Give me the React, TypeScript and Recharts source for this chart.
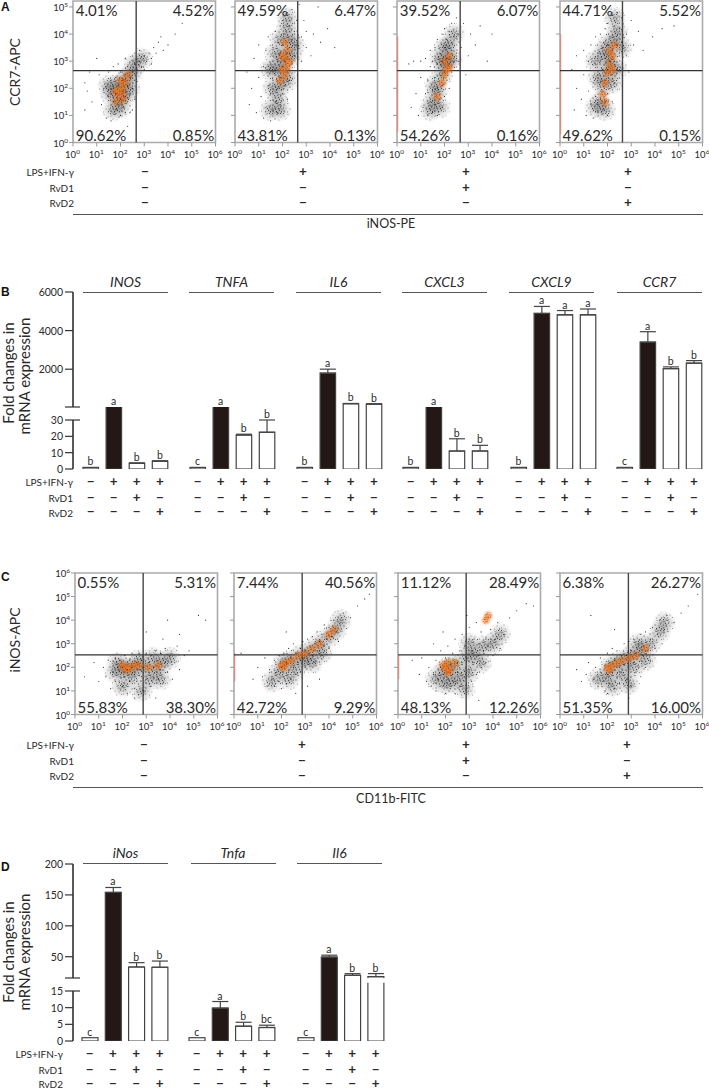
import React from 'react';
import {
    ComposedChart, ScatterChart, Scatter, Bar, Line, XAxis, YAxis, ErrorBar, LabelList,
    ReferenceLine, ReferenceArea,
} from 'recharts';

const FONT = 'Lato, sans-serif';
const INK = '#2a2a2a';

// Flow cytometry: the originals hold thousands of events. These are a hand-read sample of
// each cloud in log10 units [x, y]: haze = dense regions, hot = orange core, dots = single events.
// The dense regions are drawn as soft speckled blobs, the speckle is only a fill texture.
type Pt = [number, number];

const a1Haze: Pt[] = [[2.0,1.9],[2.1,2.2],[1.9,1.6],[1.8,2.1],[2.3,2.4],[2.2,1.7],[2.5,2.6],[1.6,1.8],[2.0,1.3],[1.5,2.1],[1.7,1.2],[2.4,2.0],[2.6,2.9],[2.9,3.1]];
const a1Hot: Pt[] = [[2.0,2.0],[2.1,1.9],[1.9,1.8],[2.2,2.2],[2.0,2.3],[1.8,1.9],[2.3,2.5],[2.1,1.6],[1.8,1.5]];
const a1Dots: Pt[] = [[1.3,2.0],[1.5,1.7],[1.6,2.3],[1.7,1.5],[1.7,2.0],[1.8,1.2],[1.8,1.8],[1.8,2.4],[1.9,1.4],[1.9,2.1],[2.0,1.0],[2.0,1.6],[2.0,2.6],[2.1,1.3],[2.1,1.9],[2.1,2.3],[2.2,1.1],[2.2,1.7],[2.2,2.5],[2.3,1.5],[2.3,2.1],[2.3,2.8],[2.4,1.8],[2.4,2.4],[2.5,2.0],[2.5,2.6],[2.6,2.3],[2.6,2.9],[2.7,2.7],[2.8,3.0],[2.9,2.8],[3.0,3.2],[3.1,3.0],[3.2,3.3],[3.3,3.1],[3.4,3.5],[3.5,3.3],[3.6,3.7],[3.7,3.9],[4.0,3.6],[0.6,1.9],[0.8,1.5],[0.5,2.2],[1.1,2.5],[1.2,1.4],[1.4,0.9],[1.5,2.6],[1.7,2.8],[2.5,1.2],[2.6,1.6],[4.6,4.4],[1.0,3.1],[1.6,0.8],[2.3,0.6],[1.9,2.9],[2.2,3.1],[3.3,2.9],[3.8,3.4],[0.5,1.2],[0.7,2.6],[2.8,3.4],[3.0,2.7],[4.3,4.0],[2.4,1.1]];

const a2Haze: Pt[] = [[2.1,3.2],[2.1,2.6],[1.9,2.1],[1.8,1.6],[2.3,3.8],[2.0,3.0],[2.2,4.2],[1.7,3.3],[2.4,3.2],[1.5,1.2],[1.6,2.0],[1.9,1.2],[2.5,3.6],[1.7,2.7],[2.2,4.6],[1.5,2.7],[1.9,3.8],[2.2,2.3]];
const a2Hot: Pt[] = [[2.1,3.1],[2.2,2.8],[2.0,2.7],[2.2,3.4],[2.1,3.7],[1.9,2.3],[2.0,3.2],[2.3,3.0],[2.1,2.5]];
const a2Dots: Pt[] = [[0.5,2.6],[0.6,1.4],[0.7,2.0],[0.8,3.1],[0.9,1.1],[1.0,2.4],[1.0,3.6],[1.1,1.7],[1.2,0.9],[1.2,2.8],[1.3,3.4],[1.3,1.3],[1.4,2.1],[1.4,3.9],[1.5,0.8],[1.5,1.8],[1.5,2.9],[1.6,1.2],[1.6,2.3],[1.6,3.5],[1.7,1.5],[1.7,2.6],[1.7,4.1],[1.8,1.1],[1.8,2.0],[1.8,3.0],[1.8,3.7],[1.9,1.4],[1.9,2.4],[1.9,3.3],[1.9,4.3],[2.0,1.8],[2.0,2.8],[2.0,3.6],[2.0,4.5],[2.1,2.1],[2.1,3.0],[2.1,4.0],[2.2,1.6],[2.2,2.6],[2.2,3.3],[2.2,4.7],[2.3,2.3],[2.3,3.5],[2.3,4.3],[2.4,2.9],[2.4,3.8],[2.4,4.9],[2.5,3.2],[2.5,4.1],[2.6,3.6],[2.6,4.5],[2.8,3.0],[2.8,3.9],[2.9,4.5],[3.0,3.5],[3.0,4.1],[3.2,3.2],[3.3,4.0],[3.6,3.7],[3.9,4.2],[4.2,3.5],[3.5,5.0],[2.7,5.1]];

const a3Haze: Pt[] = [[2.1,3.0],[1.9,2.5],[1.7,1.9],[2.2,3.6],[1.5,1.5],[2.0,2.9],[2.3,3.1],[1.6,2.1],[1.4,1.2],[1.8,1.3],[2.0,3.5],[1.8,3.1],[2.4,4.0]];
const a3Hot: Pt[] = [[2.2,2.8],[2.1,2.7],[2.0,2.5],[2.2,3.2],[1.9,2.2],[1.7,1.7],[2.0,3.0]];
const a3Dots: Pt[] = [[0.5,2.9],[0.6,1.3],[0.7,3.0],[0.8,1.8],[0.9,1.0],[1.0,3.0],[1.0,2.4],[1.1,1.3],[1.2,1.8],[1.2,3.1],[1.3,1.0],[1.3,2.3],[1.4,1.5],[1.4,2.8],[1.4,3.4],[1.5,1.1],[1.5,1.9],[1.5,3.0],[1.6,1.4],[1.6,2.4],[1.6,3.5],[1.7,1.0],[1.7,2.0],[1.7,2.9],[1.7,3.8],[1.8,1.6],[1.8,2.5],[1.8,3.3],[1.9,1.3],[1.9,2.1],[1.9,3.0],[1.9,4.0],[2.0,1.7],[2.0,2.6],[2.0,3.5],[2.0,4.2],[2.1,2.3],[2.1,3.1],[2.1,3.8],[2.2,2.0],[2.2,2.9],[2.2,4.1],[2.3,2.6],[2.3,3.4],[2.3,4.4],[2.4,3.0],[2.4,3.9],[2.5,3.3],[2.5,4.6],[2.6,3.0],[2.6,4.0],[2.7,3.5],[2.8,4.4],[3.0,3.2],[3.1,4.0],[3.3,3.6],[3.5,4.3],[3.8,3.0],[4.0,4.0],[2.9,2.5]];

const a4Haze: Pt[] = [[2.1,3.2],[2.0,2.6],[1.8,2.1],[1.7,1.5],[2.3,3.8],[2.1,2.9],[1.6,2.4],[2.2,2.2],[2.4,4.1],[1.5,1.3],[1.9,1.2],[1.5,3.0],[2.0,3.6],[2.6,3.5],[2.3,4.6],[2.4,2.7],[1.8,3.3]];
const a4Hot: Pt[] = [[2.2,3.2],[2.1,2.9],[2.0,2.6],[2.3,3.6],[2.2,2.7],[1.9,2.2],[1.8,1.8],[1.9,1.5],[2.1,3.4]];
const a4Dots: Pt[] = [[0.5,2.7],[0.6,1.2],[0.7,3.2],[0.7,2.0],[0.9,1.6],[1.0,3.4],[1.0,2.5],[1.1,1.0],[1.2,3.0],[1.2,1.9],[1.3,1.4],[1.3,3.6],[1.4,2.2],[1.4,0.9],[1.5,2.9],[1.5,1.7],[1.5,3.9],[1.6,1.1],[1.6,2.5],[1.6,3.3],[1.7,1.6],[1.7,2.2],[1.7,3.0],[1.7,4.0],[1.8,1.2],[1.8,1.9],[1.8,2.7],[1.8,3.5],[1.9,1.5],[1.9,2.3],[1.9,3.1],[1.9,4.2],[2.0,1.0],[2.0,1.8],[2.0,2.7],[2.0,3.6],[2.0,4.4],[2.1,2.0],[2.1,3.0],[2.1,3.9],[2.2,1.5],[2.2,2.5],[2.2,3.4],[2.2,4.7],[2.3,2.2],[2.3,3.0],[2.3,4.3],[2.4,2.7],[2.4,3.6],[2.4,4.8],[2.5,3.3],[2.5,4.2],[2.6,3.7],[2.6,4.6],[2.8,3.2],[2.8,4.0],[3.0,4.5],[3.1,3.6],[3.3,4.1],[3.5,3.4],[3.9,3.9],[4.3,4.2],[4.8,4.3],[2.9,2.6]];

const c1Haze: Pt[] = [[2.2,2.0],[2.5,2.0],[2.0,1.9],[2.9,2.0],[3.4,1.9],[3.7,2.2],[2.4,1.6],[3.1,1.5],[4.0,2.4],[1.7,1.8],[1.8,2.2],[2.7,2.3],[3.3,2.4],[3.6,1.5],[2.0,1.2],[2.8,1.0]];
const c1Hot: Pt[] = [[2.1,2.0],[2.3,2.0],[2.2,1.9],[2.5,2.1],[2.0,2.1],[2.7,2.1],[3.1,2.0],[3.5,2.1]];
const c1Dots: Pt[] = [[0.4,1.6],[0.8,2.2],[1.0,1.4],[1.2,2.0],[1.3,1.6],[1.4,2.3],[1.5,1.1],[1.6,1.8],[1.7,2.4],[1.7,1.4],[1.8,2.0],[1.9,1.6],[1.9,2.3],[2.0,1.2],[2.0,2.0],[2.1,2.5],[2.1,1.6],[2.2,1.9],[2.2,0.9],[2.3,2.3],[2.3,1.4],[2.4,2.0],[2.4,2.6],[2.5,1.7],[2.5,1.1],[2.6,2.2],[2.6,1.4],[2.7,1.9],[2.7,2.6],[2.8,1.6],[2.8,2.3],[2.9,1.0],[2.9,2.0],[3.0,2.6],[3.0,1.5],[3.1,2.2],[3.1,1.8],[3.2,1.2],[3.2,2.5],[3.3,2.0],[3.3,1.6],[3.4,2.7],[3.5,2.3],[3.5,1.5],[3.6,1.9],[3.6,2.6],[3.7,1.3],[3.8,2.2],[3.8,2.8],[3.9,1.8],[4.0,2.5],[4.1,1.5],[4.2,2.2],[4.3,2.9],[4.4,1.9],[4.6,2.5],[4.8,2.7],[3.0,3.5],[3.7,3.2],[3.9,4.0],[4.4,3.4],[5.2,4.2],[5.5,4.0],[3.4,0.7],[2.5,0.7]];

const c2Haze: Pt[] = [[2.1,2.2],[2.4,2.3],[2.8,2.5],[3.2,2.7],[3.6,3.0],[4.0,3.3],[1.9,1.8],[2.6,1.9],[3.0,2.3],[1.6,1.4],[2.3,1.5],[3.3,2.2],[4.3,3.6],[4.5,4.0],[3.7,2.6]];
const c2Hot: Pt[] = [[2.0,2.1],[2.2,2.2],[2.1,2.0],[2.4,2.3],[2.7,2.5],[3.0,2.6],[3.3,2.8],[3.6,3.0],[4.0,3.4],[4.2,3.6]];
const c2Dots: Pt[] = [[0.8,1.5],[1.0,2.0],[1.2,1.6],[1.3,2.4],[1.4,1.2],[1.5,1.9],[1.6,1.5],[1.7,2.3],[1.7,1.2],[1.8,1.8],[1.9,2.5],[1.9,1.4],[2.0,1.1],[2.0,2.0],[2.1,1.6],[2.1,2.6],[2.2,2.2],[2.2,1.3],[2.3,1.8],[2.3,2.8],[2.4,2.4],[2.4,1.5],[2.5,2.0],[2.5,3.0],[2.6,2.6],[2.6,1.7],[2.7,2.2],[2.8,2.8],[2.8,1.8],[2.9,2.4],[2.9,3.1],[3.0,2.0],[3.0,2.7],[3.1,3.2],[3.1,2.3],[3.2,2.9],[3.3,2.5],[3.3,3.3],[3.4,2.2],[3.4,3.0],[3.5,2.7],[3.5,3.5],[3.6,3.1],[3.7,2.5],[3.7,3.4],[3.8,2.9],[3.8,3.8],[3.9,3.2],[4.0,2.8],[4.0,3.7],[4.1,3.3],[4.2,4.0],[4.3,3.5],[4.4,3.1],[4.5,3.9],[4.6,4.3],[4.9,4.1],[5.2,4.6],[5.5,4.9],[5.7,5.1],[3.1,1.2],[2.6,0.9],[3.6,1.5],[0.3,2.6],[2.2,3.5]];

const c3Haze: Pt[] = [[2.1,2.0],[2.4,2.1],[1.9,1.8],[2.6,1.6],[2.9,2.4],[3.2,2.6],[3.6,2.9],[2.3,1.4],[3.0,1.8],[1.6,1.5],[2.0,1.3],[2.8,1.1],[3.5,2.2],[4.0,3.0],[3.0,3.0],[4.3,3.4]];
const c3Hot: Pt[] = [[2.0,2.0],[2.1,2.2],[2.2,1.9],[1.9,2.1],[2.4,2.2],[2.1,1.8],[3.7,4.0],[3.8,4.2]];
const c3Dots: Pt[] = [[0.6,2.3],[0.9,1.7],[1.0,2.4],[1.2,1.4],[1.3,2.0],[1.4,1.2],[1.5,1.7],[1.6,2.3],[1.6,1.0],[1.7,1.5],[1.8,2.0],[1.8,2.7],[1.9,1.2],[1.9,1.7],[2.0,2.4],[2.0,0.9],[2.1,1.5],[2.1,2.9],[2.2,2.1],[2.2,1.1],[2.3,1.7],[2.3,2.6],[2.4,0.9],[2.4,1.4],[2.4,3.2],[2.5,2.2],[2.5,1.8],[2.6,2.7],[2.6,1.2],[2.7,2.2],[2.7,3.4],[2.8,1.6],[2.8,2.9],[2.9,1.1],[2.9,2.4],[3.0,3.7],[3.0,1.9],[3.1,2.7],[3.1,1.4],[3.2,3.2],[3.2,2.2],[3.3,3.9],[3.3,1.7],[3.4,2.5],[3.4,3.0],[3.5,2.0],[3.5,3.5],[3.6,2.7],[3.7,3.2],[3.7,2.2],[3.8,2.9],[3.9,3.6],[4.0,2.5],[4.1,3.2],[4.2,3.9],[4.3,2.8],[4.5,3.4],[4.7,4.1],[5.0,4.4],[5.4,4.7],[5.7,4.6],[1.9,3.5],[1.5,3.0],[3.4,0.6],[2.9,4.2]];

const c4Haze: Pt[] = [[2.1,2.0],[2.4,2.2],[2.7,2.3],[3.0,2.5],[3.4,2.7],[3.8,3.0],[2.0,1.6],[2.6,1.7],[3.1,2.0],[1.6,1.5],[2.2,1.2],[2.9,1.3],[3.6,2.3],[4.2,3.5],[4.4,3.9],[3.3,3.0]];
const c4Hot: Pt[] = [[2.0,2.0],[2.2,2.1],[2.1,1.9],[2.4,2.2],[2.6,2.3],[2.9,2.4],[3.2,2.5],[3.6,2.8]];
const c4Dots: Pt[] = [[0.7,1.9],[0.9,1.4],[1.1,1.7],[1.2,2.2],[1.4,1.5],[1.5,2.0],[1.6,1.2],[1.7,1.8],[1.7,2.4],[1.8,1.4],[1.9,2.1],[1.9,1.0],[2.0,1.7],[2.0,2.6],[2.1,1.3],[2.1,2.2],[2.2,1.8],[2.2,2.8],[2.3,1.1],[2.3,2.3],[2.4,1.6],[2.4,2.7],[2.5,2.0],[2.5,1.3],[2.6,2.5],[2.6,1.8],[2.7,2.1],[2.7,3.0],[2.8,1.5],[2.8,2.5],[2.9,2.0],[2.9,3.1],[3.0,1.2],[3.0,2.7],[3.1,2.2],[3.1,3.2],[3.2,1.8],[3.2,2.6],[3.3,3.0],[3.3,2.1],[3.4,1.6],[3.4,3.4],[3.5,2.5],[3.5,2.9],[3.6,2.0],[3.6,3.5],[3.7,2.7],[3.8,3.2],[3.8,2.3],[3.9,3.7],[4.0,2.8],[4.1,3.4],[4.2,4.0],[4.3,3.0],[4.4,3.6],[4.5,4.2],[4.8,3.9],[5.1,4.3],[5.4,4.6],[5.8,5.1],[2.3,3.6],[1.3,4.2],[2.9,0.7],[2.0,0.9]];

const a1Labels = ['4.01%', '4.52%', '90.62%', '0.85%'];
const a2Labels = ['49.59%', '6.47%', '43.81%', '0.13%'];
const a3Labels = ['39.52%', '6.07%', '54.26%', '0.16%'];
const a4Labels = ['44.71%', '5.52%', '49.62%', '0.15%'];
const c1Labels = ['0.55%', '5.31%', '55.83%', '38.30%'];
const c2Labels = ['7.44%', '40.56%', '42.72%', '9.29%'];
const c3Labels = ['11.12%', '28.49%', '48.13%', '12.26%'];
const c4Labels = ['6.38%', '26.27%', '51.35%', '16.00%'];

const xDecades = [0, 1, 2, 3, 4, 5, 6];
const aDecades = [0, 1, 2, 3, 4, 5];

// Treatment table
const categories = ['control', 'lps', 'rvd1', 'rvd2'];
const lpsRow = ['−', '+', '+', '+'];
const rvd1Row = ['−', '−', '+', '−'];
const rvd2Row = ['−', '−', '−', '+'];
const rowNames = ['LPS+IFN-γ', 'RvD1', 'RvD2'];
const panelLps = ['−', '+', '+', '+'];
const panelRvd1 = ['−', '−', '+', '−'];
const panelRvd2 = ['−', '−', '−', '+'];

// Panel B, human genes (42 = bar cut off at the axis break)
const inosValues = [1, 42, 3.5, 4.8];
const inosErrors = [0, 0, 0.2, 0.2];
const inosLetters = ['b', 'a', 'b', 'b'];
const tnfaValues = [1, 42, 20.8, 22.5];
const tnfaErrors = [0, 0, 0.5, 7.5];
const tnfaLetters = ['c', 'a', 'b', 'b'];
const il6Values = [1, 1792, 210, 195];
const il6Errors = [0, 210, 15, 10];
const il6Letters = ['b', 'a', 'b', 'b'];
const cxcl3Values = [1, 42, 11, 11];
const cxcl3Errors = [0, 0, 7.5, 3.5];
const cxcl3Letters = ['b', 'a', 'b', 'b'];
const cxcl9Values = [1, 4888, 4820, 4820];
const cxcl9Errors = [0, 364, 220, 300];
const cxcl9Letters = ['b', 'a', 'a', 'a'];
const ccr7Values = [1, 3403, 2030, 2310];
const ccr7Errors = [0, 540, 90, 135];
const ccr7Letters = ['c', 'a', 'b', 'b'];

// Panel D, mouse genes
const mInosValues = [1, 154, 33.4, 33];
const mInosErrors = [0, 8, 7, 10];
const mInosLetters = ['c', 'a', 'b', 'b'];
const mTnfaValues = [1, 10, 4.5, 4.1];
const mTnfaErrors = [0, 2, 1.2, 0.7];
const mTnfaLetters = ['c', 'a', 'b', 'bc'];
const mIl6Values = [1, 49.5, 20, 17.7];
const mIl6Errors = [0, 3, 2.6, 5];
const mIl6Letters = ['c', 'a', 'b', 'b'];

const barFills = ['#fff', '#231815', '#fff', '#fff'];

const T = ({ x, y, size = 11, anchor = 'left', rotate = 0, style, children }: any) => {
    const tx = anchor === 'center' ? '-50%' : anchor === 'right' ? '-100%' : '0';
    return (
        <div style={{
            position: 'absolute', left: x, top: y, fontFamily: FONT, fontSize: size, color: INK, lineHeight: 1,
            whiteSpace: 'nowrap', transform: `translate(${tx}, -50%) rotate(${rotate}deg)`, ...style,
        }}>{children}</div>
    );
};

const Rule = ({ x, y, w, color = '#555', h = 1.4 }: any) => (
    <div style={{ position: 'absolute', left: x, top: y, width: w, height: h, background: color }} />
);

const toRows = (pts: Pt[]) => pts.map(([x, y]) => ({ x, y }));

// fill textures for the dense parts of the clouds
const darkSpecks = [[1,1],[4,0.5],[7,2],[10,1],[2.5,3.5],[5.5,3],[8.5,4],[0.5,5],[3.5,6],[6.5,5.5],[10,6],[1.5,8],[4.5,8.5],[7.5,7.5],[9.5,9],[0.5,10.5],[3,10],[6,10.5],[8.5,10.5]];
const greySpecks = [[2.5,1.5],[6,1],[9,2.5],[0.8,3],[4,4.5],[7,4],[2,6],[5,6.5],[8.5,6],[3,8],[6,8.5],[10.5,7.5],[1.5,9.5],[8,9]];
const sparseSpecks = [[1,2],[5,0.5],[9,3],[3,5],[7,6],[0.5,8],[4.5,9],[9.5,8.5]];
const orangeSpecks = [[1.5,1],[4,2],[0.5,3.5],[3,4],[5.5,0.5],[5,5],[1.5,5.5],[3.5,6]];
const redSpecks = [[2.8,0.5],[0.5,2],[2,3],[4.5,3.5],[0.5,5.5]];

const Textures = () => (
    <svg width={0} height={0} style={{ position: 'absolute' }}>
        <defs>
            <radialGradient id="hazeSoft">
                <stop offset="0%" stopColor="#555" stopOpacity={0.38} />
                <stop offset="100%" stopColor="#555" stopOpacity={0} />
            </radialGradient>
            <radialGradient id="hotSoft">
                <stop offset="0%" stopColor="#e8701a" stopOpacity={0.6} />
                <stop offset="100%" stopColor="#e8701a" stopOpacity={0} />
            </radialGradient>
            <pattern id="speck" width={11} height={11} patternUnits="userSpaceOnUse">
                {greySpecks.map(([x, y], i) => <circle key={i} cx={x} cy={y} r={0.45} fill="#888" />)}
                {darkSpecks.map(([x, y], i) => <circle key={i} cx={x} cy={y} r={0.5} fill="#222" />)}
            </pattern>
            <pattern id="speckSparse" width={11} height={11} patternUnits="userSpaceOnUse">
                {sparseSpecks.map(([x, y], i) => <circle key={i} cx={x} cy={y} r={0.45} fill="#333" />)}
            </pattern>
            <pattern id="hotSpeck" width={6} height={7} patternUnits="userSpaceOnUse">
                {orangeSpecks.map(([x, y], i) => <circle key={i} cx={x} cy={y} r={0.75} fill="#ef7d1a" />)}
                {redSpecks.map(([x, y], i) => <circle key={i} cx={x} cy={y} r={0.6} fill="#c8401a" />)}
            </pattern>
        </defs>
    </svg>
);

const hazeShape = (p: any) => (
    <g>
        <circle cx={p.cx} cy={p.cy} r={12} fill="url(#hazeSoft)" />
        <circle cx={p.cx} cy={p.cy} r={11} fill="url(#speckSparse)" />
        <circle cx={p.cx} cy={p.cy} r={5.5} fill="url(#speck)" />
    </g>
);
const hotShape = (p: any) => (
    <g>
        <circle cx={p.cx} cy={p.cy} r={6} fill="url(#hotSoft)" />
        <circle cx={p.cx} cy={p.cy} r={3.5} fill="url(#hotSpeck)" />
    </g>
);
const dotShape = (p: any) => <circle cx={p.cx} cy={p.cy} r={0.6} fill="#111" fillOpacity={0.85} />;

const powerTickX = (p: any) => (
    <g>
        <line x1={p.x} x2={p.x} y1={p.y - 6} y2={p.y - 2} stroke="#999" />
        <text x={p.x - 0.5} y={p.y + 9} textAnchor="middle" fontFamily={FONT} fontSize={9.5} fill={INK}>
            10<tspan dy={-4} fontSize={6.5}>{p.payload.value}</tspan>
        </text>
    </g>
);

const powerTickY = (labelled: boolean) => (p: any) => (
    <g>
        <line x1={p.x + 6} x2={p.x + 2} y1={p.y} y2={p.y} stroke="#999" />
        {labelled && (
            <text x={p.x + 1} y={p.y + 4} textAnchor="end" fontFamily={FONT} fontSize={9.5} fill={INK}>
                10<tspan dy={-4} fontSize={6.5}>{p.payload.value}</tspan>
            </text>
        )}
    </g>
);

const FlowPanel = ({ left, top, yMax, yTicks, crossX, crossY, haze, hot, dots, labels, labelled, sliver }: any) => {
    const plotW = 142.5;
    const plotH = 141.5;
    const marginLeft = 40;
    return (
        <>
            <div style={{ position: 'absolute', left: left - marginLeft, top: top - 8 }}>
                <ScatterChart width={marginLeft + plotW + 16} height={plotH + 8 + 24}
                    margin={{ top: 8, right: 16, bottom: 0, left: 0 }}>
                    <XAxis type="number" dataKey="x" domain={[0, 6]} ticks={xDecades} height={24} interval={0}
                        allowDataOverflow tick={powerTickX} tickLine={false} axisLine={false} tickSize={0} tickMargin={6} />
                    <YAxis type="number" dataKey="y" domain={[0, yMax]} ticks={yTicks} width={marginLeft} interval={0}
                        allowDataOverflow tick={powerTickY(labelled)} tickLine={false} axisLine={false} tickSize={0} tickMargin={6} />
                    <ReferenceArea x1={0} x2={6} y1={0} y2={yMax} fill="none" stroke="#aaa" strokeWidth={1.6} />
                    <Scatter data={toRows(haze)} shape={hazeShape} isAnimationActive={false} />
                    <Scatter data={toRows(hot)} shape={hotShape} isAnimationActive={false} />
                    <Scatter data={toRows(dots)} shape={dotShape} isAnimationActive={false} />
                    {sliver && (
                        <ReferenceLine segment={[{ x: 0.03, y: sliver[0] }, { x: 0.03, y: sliver[1] }]} stroke="#e8806a" strokeWidth={1} />
                    )}
                    <ReferenceLine x={crossX} stroke="#444" strokeWidth={1.4} />
                    <ReferenceLine y={crossY} stroke="#333" strokeWidth={1.4} />
                </ScatterChart>
            </div>
            <T x={left + 2.5} y={top + 8.5} size={15}>{labels[0]}</T>
            <T x={left + plotW - 1.5} y={top + 8.5} size={15} anchor="right">{labels[1]}</T>
            <T x={left + 2.5} y={top + plotH - 7.5} size={15}>{labels[2]}</T>
            <T x={left + plotW - 1.5} y={top + plotH - 7.5} size={15} anchor="right">{labels[3]}</T>
        </>
    );
};

const signTick = (p: any) => {
    const i = p.index;
    const rows = [lpsRow[i], rvd1Row[i], rvd2Row[i]];
    return (
        <g>
            {rows.map((s, r) => (
                <text key={r} x={p.x} y={p.y + [17.5, 33.5, 47.5][r]} textAnchor="middle" fontFamily={FONT} fontSize={13.5} fontWeight={700} fill={INK}>{s}</text>
            ))}
        </g>
    );
};

// upper part of a broken axis: no baseline; lower part: no top edge when the bar runs on past the break
const barShape = (part: 'upper' | 'lower', cut: number) => (p: any) => {
    const { x, y, width, height, index, payload } = p;
    const fill = barFills[index];
    if (part === 'upper') {
        if (payload.value <= cut) return <g />;
        return (
            <g>
                <rect x={x} y={y} width={width} height={height} fill={fill} />
                <path d={`M${x},${y + height}V${y}H${x + width}V${y + height}`} fill="none" stroke="#444" strokeWidth={1.2} />
            </g>
        );
    }
    if (payload.value >= cut) {
        return (
            <g>
                <rect x={x} y={y} width={width} height={height} fill={fill} />
                <path d={`M${x},${y}V${y + height}H${x + width}V${y}`} fill="none" stroke="#444" strokeWidth={1.2} />
            </g>
        );
    }
    return <rect x={x} y={y} width={width} height={height} fill={fill} stroke="#444" strokeWidth={1.2} />;
};

const errorKey = (d: any) => (d.err ? [0, d.err] : null);

const GeneBars = ({ left, band, barW, axis, values, errors, letters }: any) => {
    const cut = axis.upperMin;
    const rows = categories.map((name, i) => ({ name, value: values[i], err: errors[i], letter: letters[i], top: values[i] + errors[i] }));
    // error bars and letters belong to the part of the axis where the bar ends
    const upperRows = rows.map((r) => (r.value >= cut ? r : { ...r, err: null, letter: null, top: null }));
    const lowerRows = rows.map((r) => (r.value < cut ? r : { ...r, err: null, letter: null, top: null }));
    const width = band * 4;
    const series = (part: 'upper' | 'lower') => [
        <Bar key="bars" dataKey="value" barSize={barW} shape={barShape(part, cut)} isAnimationActive={false}>
            <ErrorBar dataKey={errorKey as any} direction="y" width={8} stroke="#444" strokeWidth={1.2} isAnimationActive={false} />
        </Bar>,
        <Line key="letters" dataKey="top" stroke="none" dot={false} activeDot={false} isAnimationActive={false}>
            <LabelList dataKey="letter" position="top" offset={2} fontFamily={FONT} fontSize={10.5} fill={INK} />
        </Line>,
    ];
    return (
        <>
            <div style={{ position: 'absolute', left, top: axis.top }}>
                <ComposedChart width={width} height={axis.breakY - axis.top} data={upperRows} margin={{ top: 0, right: 0, bottom: 0, left: 0 }}>
                    <XAxis dataKey="name" hide />
                    <YAxis type="number" hide domain={[axis.upperMin, axis.upperMax]} allowDataOverflow />
                    {series('upper')}
                </ComposedChart>
            </div>
            <div style={{ position: 'absolute', left, top: axis.breakY }}>
                <ComposedChart width={width} height={axis.zeroY - axis.breakY + 56} data={lowerRows} margin={{ top: 0, right: 0, bottom: 0, left: 0 }}>
                    <XAxis dataKey="name" height={56} tick={signTick} tickLine={false} axisLine={false} tickSize={0} tickMargin={0} interval={0} />
                    <YAxis type="number" hide domain={[0, axis.lowerMax]} allowDataOverflow />
                    {series('lower')}
                </ComposedChart>
            </div>
        </>
    );
};

const axisTick = (breakValue: number | null, showBreakLabel: boolean) => (p: any) => {
    const v = p.payload.value;
    const isBreak = v === breakValue;
    return (
        <g>
            <line x1={p.x - 8} x2={p.x + (isBreak ? 7 : 0)} y1={p.y} y2={p.y} stroke="#333" strokeWidth={1.2} />
            {!isBreak || showBreakLabel ? (
                <text x={p.x - 10} y={p.y + 4} textAnchor="end" fontFamily={FONT} fontSize={10.5} fill={INK}>{v}</text>
            ) : null}
        </g>
    );
};

const AxisOnly = ({ top, height, domain, ticks, breakValue, showBreakLabel }: any) => (
    <div style={{ position: 'absolute', left: 0, top: top - 8 }}>
        <ComposedChart width={90} height={height + 16} data={[{ name: 'axis', v: domain[0] }]} margin={{ top: 8, right: 0, bottom: 8, left: 0 }}>
            <XAxis dataKey="name" hide />
            <YAxis type="number" domain={domain} ticks={ticks} width={73} interval={0} tickLine={false} tickSize={0} tickMargin={0}
                tick={axisTick(breakValue, showBreakLabel)} axisLine={{ stroke: '#222', strokeWidth: 1.5 }} />
            <Line dataKey="v" stroke="none" dot={false} activeDot={false} isAnimationActive={false} />
        </ComposedChart>
    </div>
);

const RowTitles = ({ right, ys }: any) => (
    <>
        {rowNames.map((n, i) => <T key={n} x={right} y={ys[i]} size={10} anchor="right">{n}</T>)}
    </>
);

const PanelSigns = ({ xs, ys }: any) => (
    <>
        {xs.map((x: number, i: number) => (
            <React.Fragment key={x}>
                <T x={x} y={ys[0]} size={13.5} anchor="center" style={{ fontWeight: 700 }}>{panelLps[i]}</T>
                <T x={x} y={ys[1]} size={13.5} anchor="center" style={{ fontWeight: 700 }}>{panelRvd1[i]}</T>
                <T x={x} y={ys[2]} size={13.5} anchor="center" style={{ fontWeight: 700 }}>{panelRvd2[i]}</T>
            </React.Fragment>
        ))}
    </>
);

const bAxis = { top: 292, breakY: 407, zeroY: 469, upperMin: 42, upperMax: 6000, lowerMax: 37.96 };
const dAxis = { top: 864, breakY: 978, zeroY: 1041, upperMin: 15.6, upperMax: 200, lowerMax: 19.15 };

const GeneHead = ({ x, y, lineY, title }: any) => (
    <>
        <T x={x + 42.5} y={y} size={14} anchor="center" style={{ fontStyle: 'italic' }}>{title}</T>
        <Rule x={x} y={lineY} w={85} />
    </>
);

const panelLetter = { fontFamily: 'Liberation Sans', fontWeight: 700, color: '#111' };

export default function App() {
    return (
        <div style={{ position: 'absolute', left: 0, top: 0, width: 709, height: 1089, background: '#fff', overflow: 'hidden', opacity: 0.995 }}>
            <Textures />
            <T x={1} y={7} size={12} style={panelLetter}>A</T>
            <T x={15} y={72} size={14} anchor="center" rotate={-90}>CCR7-APC</T>
            <FlowPanel left={73.3} top={1} yMax={5.22} yTicks={aDecades} crossX={2.66} crossY={2.65} labelled haze={a1Haze} hot={a1Hot} dots={a1Dots} labels={a1Labels} />
            <FlowPanel left={235} top={1} yMax={5.22} yTicks={aDecades} crossX={2.64} crossY={2.65} haze={a2Haze} hot={a2Hot} dots={a2Dots} labels={a2Labels} />
            <FlowPanel left={397.3} top={1} yMax={5.22} yTicks={aDecades} crossX={2.66} crossY={2.65} haze={a3Haze} hot={a3Hot} dots={a3Dots} labels={a3Labels} sliver={[0.4, 3.9]} />
            <FlowPanel left={560} top={1} yMax={5.22} yTicks={aDecades} crossX={2.63} crossY={2.65} haze={a4Haze} hot={a4Hot} dots={a4Dots} labels={a4Labels} sliver={[0.3, 4]} />
            <RowTitles right={74} ys={[172, 188, 203]} />
            <PanelSigns xs={[145, 303, 466, 628]} ys={[172, 188, 203]} />
            <Rule x={73} y={213.5} w={630} />
            <T x={391} y={224} size={12.5} anchor="center">iNOS-PE</T>

            <T x={1} y={292} size={12} style={panelLetter}>B</T>
            <T x={8} y={373} size={15} anchor="center" rotate={-90}>Fold changes in</T>
            <T x={24} y={376} size={15} anchor="center" rotate={-90}>mRNA expression</T>
            <AxisOnly top={292} height={115} domain={[42, 6000]} ticks={[42, 2000, 4000, 6000]} breakValue={42} />
            <AxisOnly top={420} height={49} domain={[0, 30]} ticks={[0, 10, 20, 30]} breakValue={30} showBreakLabel />
            <GeneHead x={83} y={282} lineY={292} title="INOS" />
            <GeneHead x={189} y={282} lineY={292} title="TNFA" />
            <GeneHead x={296} y={282} lineY={292} title="IL6" />
            <GeneHead x={402} y={282} lineY={292} title="CXCL3" />
            <GeneHead x={509} y={282} lineY={292} title="CXCL9" />
            <GeneHead x={617} y={282} lineY={292} title="CCR7" />
            <GeneBars left={79.45} band={23.1} barW={15.5} axis={bAxis} values={inosValues} errors={inosErrors} letters={inosLetters} />
            <GeneBars left={186.1} band={23.1} barW={15.5} axis={bAxis} values={tnfaValues} errors={tnfaErrors} letters={tnfaLetters} />
            <GeneBars left={292.7} band={23.1} barW={15.5} axis={bAxis} values={il6Values} errors={il6Errors} letters={il6Letters} />
            <GeneBars left={399.4} band={23.1} barW={15.5} axis={bAxis} values={cxcl3Values} errors={cxcl3Errors} letters={cxcl3Letters} />
            <GeneBars left={507.4} band={23.1} barW={15.5} axis={bAxis} values={cxcl9Values} errors={cxcl9Errors} letters={cxcl9Letters} />
            <GeneBars left={612.7} band={23.1} barW={15.5} axis={bAxis} values={ccr7Values} errors={ccr7Errors} letters={ccr7Letters} />
            <RowTitles right={73} ys={[482, 498, 513]} />

            <T x={1} y={577} size={12} style={panelLetter}>C</T>
            <T x={15} y={640} size={14} anchor="center" rotate={-90}>iNOS-APC</T>
            <FlowPanel left={75} top={573} yMax={6} yTicks={xDecades} crossX={2.87} crossY={2.53} labelled haze={c1Haze} hot={c1Hot} dots={c1Dots} labels={c1Labels} />
            <FlowPanel left={234.3} top={573} yMax={6} yTicks={xDecades} crossX={2.87} crossY={2.53} haze={c2Haze} hot={c2Hot} dots={c2Dots} labels={c2Labels} sliver={[1.4, 2.6]} />
            <FlowPanel left={398.3} top={573} yMax={6} yTicks={xDecades} crossX={2.87} crossY={2.53} haze={c3Haze} hot={c3Hot} dots={c3Dots} labels={c3Labels} sliver={[1.5, 2.5]} />
            <FlowPanel left={560} top={573} yMax={6} yTicks={xDecades} crossX={2.88} crossY={2.53} haze={c4Haze} hot={c4Hot} dots={c4Dots} labels={c4Labels} />
            <RowTitles right={74} ys={[745, 761, 776]} />
            <PanelSigns xs={[144, 302, 466, 627]} ys={[745, 761, 776]} />
            <Rule x={73} y={786.5} w={630} />
            <T x={391} y={799} size={12.5} anchor="center">CD11b-FITC</T>

            <T x={1} y={867} size={12} style={panelLetter}>D</T>
            <T x={8} y={952} size={15} anchor="center" rotate={-90}>Fold changes in</T>
            <T x={24} y={952} size={15} anchor="center" rotate={-90}>mRNA expression</T>
            <AxisOnly top={864} height={114} domain={[15.6, 200]} ticks={[15.6, 50, 100, 150, 200]} breakValue={15.6} />
            <AxisOnly top={991} height={50} domain={[0, 15]} ticks={[0, 5, 10, 15]} breakValue={15} showBreakLabel />
            <GeneHead x={83} y={853} lineY={863} title="iNos" />
            <GeneHead x={190.5} y={853} lineY={863} title="Tnfa" />
            <GeneHead x={297} y={853} lineY={863} title="Il6" />
            <GeneBars left={77.65} band={23.3} barW={16} axis={dAxis} values={mInosValues} errors={mInosErrors} letters={mInosLetters} />
            <GeneBars left={185.05} band={23.3} barW={16} axis={dAxis} values={mTnfaValues} errors={mTnfaErrors} letters={mTnfaLetters} />
            <GeneBars left={294.05} band={23.3} barW={16} axis={dAxis} values={mIl6Values} errors={mIl6Errors} letters={mIl6Letters} />
            <RowTitles right={63} ys={[1054, 1070, 1084]} />
        </div>
    );
}
